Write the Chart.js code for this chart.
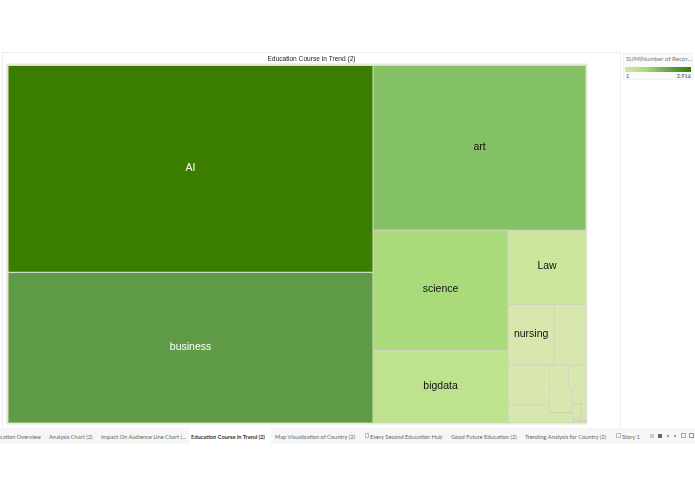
<!DOCTYPE html>
<html>
<head>
<meta charset="utf-8">
<title>Education Course in Trend (2)</title>
<script src="https://cdn.jsdelivr.net/npm/chart.js@4/dist/chart.umd.js"></script>
<style>
    html, body { margin: 0; padding: 0; background: #fff; overflow: hidden; }
    body { position: relative; width: 695px; height: 494px; font-family: "Open Sans", sans-serif; }
    #panel { position: absolute; left: 2px; top: 52px; width: 617px; height: 375px; border: 1px solid #eeeeee; }
    #panel canvas { position: absolute; left: 0; top: 0; }
    #legend { position: absolute; left: 623px; top: 53px; width: 70px; height: 27px; background: #fafafa; border: 1px solid #f1f1f1; box-sizing: border-box; color: #777; }
    #legendTitle { position: absolute; left: 2px; top: 1px; font-family: Lato, sans-serif; font-size: 6.2px; white-space: nowrap; }
    #legendBar { position: absolute; left: 1px; right: 1px; top: 13px; height: 5px; background: linear-gradient(to right, #d5e59f, #aeda7c 30%, #5f9e4a 70%, #3a7d00); }
    #legendMin, #legendMax { position: absolute; top: 18px; font-family: Lato, sans-serif; font-size: 5.6px; color: #444; }
    #legendMin { left: 2px; }
    #legendMax { right: 1px; }
    #tabs { position: absolute; left: 0; top: 428px; width: 695px; height: 16px; background: #f6f6f6; font-family: Lato, sans-serif; font-size: 5.7px; color: #666; }
    #tabs span { position: absolute; top: 4.5px; white-space: nowrap; }
    #activeTab { position: absolute; left: 189px; top: 0; width: 82px; height: 16px; background: #fff; }
    #tabs span.active { font-weight: 700; color: #333; }
    #tabs i { position: absolute; display: block; }
</style>
</head>
<body>
<div id="panel"><canvas id="treemap" width="617" height="375"></canvas></div>
<div id="legend">
    <div id="legendTitle">SUM(Number of Recor...</div>
    <div id="legendBar"></div>
    <div id="legendMin">1</div>
    <div id="legendMax">2,916</div>
</div>
<div id="tabs">
    <div id="activeTab"></div>
    <span style="right:654px">Education Overview</span>
    <span style="left:49px">Analysis Chart (2)</span>
    <span style="left:101px">Impact On Audience Line Chart (...</span>
    <span class="active" style="left:191px">Education Course in Trend (2)</span>
    <span style="left:275px">Map Visualization of Country (2)</span>
    <i style="left:365px;top:5px;width:4px;height:5px;border:1px solid #bbb;box-sizing:border-box"></i>
    <span style="left:370px">Every Second Education Hub</span>
    <span style="left:451px">Good Future Education (2)</span>
    <span style="left:525px">Trending Analysis for Country (2)</span>
    <i style="left:616px;top:5px;width:5px;height:5px;border:1px solid #bbb;box-sizing:border-box"></i>
    <span style="left:622px">Story 1</span>
    <i style="left:650px;top:6px;width:4px;height:4px;background:#ccc"></i>
    <i style="left:658px;top:6px;width:4px;height:4px;background:#666"></i>
    <i style="left:667px;top:7px;width:2px;height:2px;background:#999"></i>
    <i style="left:674px;top:7px;width:2px;height:2px;background:#999"></i>
    <i style="left:681px;top:5px;width:5px;height:5px;border:1px solid #aaa;box-sizing:border-box"></i>
    <i style="left:689px;top:5px;width:5px;height:5px;border:1px solid #999;box-sizing:border-box"></i>
</div>

<script>
// Cells too small to carry a label keep an empty name
const courseNames = ["AI", "business", "art", "science", "bigdata", "Law", "nursing", "", "", "", "", "", "", "", "", "", "", "", ""];
const courseRecords = [2916, 2123, 1355, 628, 377, 224, 107, 74, 64, 29, 17, 16, 22, 9, 8, 5, 3, 1, 1];

// How many cells go into each successive strip of the treemap
const stripCounts = [2, 1, 2, 1, 2, 2, 2, 2, 1, 2, 2];

// Colour ramp for SUM(Number of Records)
const rampValues = [1, 107, 224, 377, 628, 1355, 2123, 2916];
const rampColors = [[216, 231, 174], [216, 231, 174], [205, 230, 158], [190, 226, 141], [170, 218, 122], [133, 194, 102], [95, 155, 70], [58, 125, 0]];

const labelColors = { AI: "#ffffff", business: "#ffffff" };

function recordColor(value) {
    let i = rampValues.findIndex((v) => v >= value);
    if (i <= 0) return `rgb(${rampColors[0].join(",")})`;
    const t = (value - rampValues[i - 1]) / (rampValues[i] - rampValues[i - 1]);
    const rgb = rampColors[i].map((c, k) => Math.round(rampColors[i - 1][k] + (c - rampColors[i - 1][k]) * t));
    return `rgb(${rgb.join(",")})`;
}

// Lay the strips out along the shorter side of whatever space is left
function layoutStrips(values, counts, width, height) {
    const total = values.reduce((a, b) => a + b, 0);
    const unit = (width * height) / total;
    const cells = [];
    let x = 0, y = 0, w = width, h = height, next = 0;
    counts.forEach((count) => {
        const strip = values.slice(next, next + count);
        const area = strip.reduce((a, b) => a + b, 0) * unit;
        let offset = 0;
        if (h <= w) {
            const stripW = area / h;
            strip.forEach((v) => {
                const cellH = (v * unit) / stripW;
                cells.push({ x0: x, x1: x + stripW, y0: y + offset, y1: y + offset + cellH });
                offset += cellH;
            });
            x += stripW;
            w -= stripW;
        } else {
            const stripH = area / w;
            strip.forEach((v) => {
                const cellW = (v * unit) / stripH;
                cells.push({ x0: x + offset, x1: x + offset + cellW, y0: y, y1: y + stripH });
                offset += cellW;
            });
            y += stripH;
            h -= stripH;
        }
        next += count;
    });
    return cells;
}

class TreemapController extends Chart.DatasetController {
    static id = "treemap";
    static defaults = {
        dataElementType: "bar",
        parsing: false,
    };

    update(mode) {
        const rects = this._cachedMeta.data;
        this.updateElements(rects, 0, rects.length, mode);
    }

    updateElements(rects, start, count, mode) {
        const { xScale, yScale } = this._cachedMeta;
        const dataset = this.getDataset();
        const cells = layoutStrips(dataset.data, dataset.strips, xScale.max, yScale.max);
        for (let i = start; i < start + count; i++) {
            const left = xScale.getPixelForValue(cells[i].x0);
            const right = xScale.getPixelForValue(cells[i].x1);
            const top = yScale.getPixelForValue(cells[i].y0);
            const bottom = yScale.getPixelForValue(cells[i].y1);
            this.updateElement(rects[i], i, {
                x: (left + right) / 2,
                y: top,
                base: bottom,
                width: right - left,
                height: bottom - top,
                horizontal: false,
                borderSkipped: {},
                inflateAmount: 0,
                options: this.resolveDataElementOptions(i, mode),
            }, mode);
        }
    }

    draw() {
        super.draw();
        const { ctx } = this.chart;
        const dataset = this.getDataset();
        ctx.save();
        ctx.font = "10.5px 'Liberation Sans', Arial, sans-serif";
        ctx.textAlign = "center";
        ctx.textBaseline = "middle";
        this._cachedMeta.data.forEach((rect, i) => {
            const name = dataset.names[i];
            if (!name) return;
            const center = rect.getCenterPoint();
            ctx.fillStyle = labelColors[name] || "#111111";
            ctx.fillText(name, center.x, center.y - 1);
        });
        ctx.restore();
    }
}

Chart.register(TreemapController);

// Grey mat behind the cells, and the title centred on the whole panel
const panelPlugin = {
    id: "panelPlugin",
    afterLayout(chart) {
        chart.titleBlock.left = 0;
        chart.titleBlock.right = chart.width;
    },
    beforeDatasetsDraw(chart) {
        const { ctx, chartArea: a } = chart;
        ctx.save();
        ctx.fillStyle = "#e6e8e1";
        ctx.fillRect(a.left - 2, a.top - 2, a.right - a.left + 3.5, a.bottom - a.top + 3.5);
        ctx.restore();
    },
};

new Chart(document.getElementById("treemap"), {
    type: "treemap",
    data: {
        datasets: [{
            label: "SUM(Number of Records)",
            data: courseRecords,
            names: courseNames,
            strips: stripCounts,
            backgroundColor: courseRecords.map(recordColor),
            borderColor: "#b9c89a",
            borderWidth: 0.6,
        }],
    },
    options: {
        responsive: false,
        animation: false,
        events: [],
        layout: {
            padding: { left: 5, right: 34, bottom: 5 },
        },
        scales: {
            x: { type: "linear", min: 0, max: 578, display: false },
            y: { type: "linear", min: 0, max: 356, reverse: true, display: false },
        },
        plugins: {
            legend: { display: false },
            tooltip: { enabled: false },
            title: {
                display: true,
                text: "Education Course in Trend (2)",
                color: "#222222",
                font: { family: "'Liberation Sans', Arial, sans-serif", size: 6.6, weight: "normal" },
                padding: { top: 2, bottom: 2.6 },
            },
        },
    },
    plugins: [panelPlugin],
});
</script>
</body>
</html>
